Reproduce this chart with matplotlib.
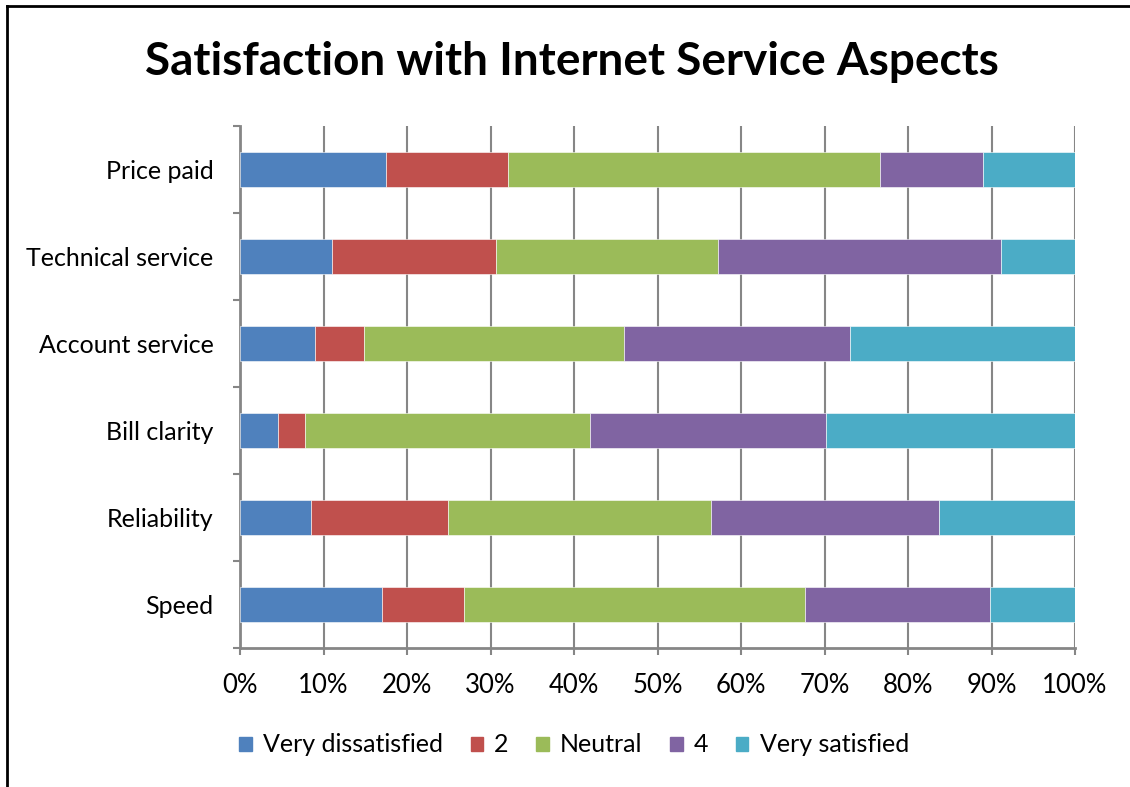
import numpy as np
import matplotlib.pyplot as plt
from matplotlib.lines import Line2D

plt.rcParams['font.family'] = ['Lato', 'DejaVu Sans']

categories = ['Speed', 'Reliability', 'Bill clarity', 'Account service',
              'Technical service', 'Price paid']
series = ['Very dissatisfied', '2', 'Neutral', '4', 'Very satisfied']
colors = ['#4F81BD', '#C0504D', '#9BBB59', '#8064A2', '#4BACC6']

# percent shares per category (bottom to top), one list per response level
very_dissatisfied = [17.0, 8.5, 4.5, 9.0, 11.0, 17.5]
two = [9.8, 16.4, 3.3, 5.8, 19.6, 14.6]
neutral = [40.9, 31.5, 34.1, 31.2, 26.6, 44.5]
four = [22.1, 27.3, 28.3, 27.1, 33.9, 12.4]
very_satisfied = [10.2, 16.3, 29.8, 26.9, 8.9, 11.0]
values = [very_dissatisfied, two, neutral, four, very_satisfied]

fig = plt.figure(figsize=(11.3, 7.87), dpi=100)
ax = fig.add_axes([240 / 1130, 1 - 648 / 787, 835 / 1130, 522 / 787])

y = np.arange(len(categories))
left = np.zeros(len(categories))
for vals, name, col in zip(values, series, colors):
    vals = np.array(vals)
    ax.barh(y, vals / 100.0, left=left, height=0.4, color=col, label=name,
            edgecolor='white', linewidth=0.4, zorder=3)
    left += vals / 100.0

grey = '#868686'
ax.set_xlim(0, 1)
ax.set_ylim(-0.5, len(categories) - 0.5)
ax.set_xticks(np.arange(0, 1.01, 0.1))
ax.set_xticklabels(['%d%%' % v for v in range(0, 101, 10)])
ax.set_yticks(y)
ax.set_yticklabels(categories)
ax.set_yticks(np.arange(-0.5, len(categories), 1.0), minor=True)
ax.tick_params(axis='y', which='major', length=0, pad=19, labelsize=18)
ax.tick_params(axis='y', which='minor', length=5, width=1.5, color=grey)
ax.tick_params(axis='x', length=5, width=1.5, color=grey, pad=13, labelsize=18.5)
ax.grid(axis='x', color=grey, linewidth=1.5, zorder=0)
for s in ['top', 'right']:
    ax.spines[s].set_visible(False)
for s in ['left', 'bottom']:
    ax.spines[s].set_color(grey)
    ax.spines[s].set_linewidth(2)

fig.text(0.506, 1 - 62 / 787, 'Satisfaction with Internet Service Aspects',
         ha='center', va='center', fontsize=33, fontweight='bold')

handles = [plt.Rectangle((0, 0), 1, 1, color=c) for c in colors]
fig.legend(handles, series, loc='center', bbox_to_anchor=(0.508, 1 - 745 / 787),
           ncol=5, frameon=False, fontsize=18, handlelength=0.5, handleheight=0.5,
           handletextpad=0.45, columnspacing=1.1)

# outer chart border (left and top edges visible)
fig.add_artist(Line2D([7 / 1130, 7 / 1130], [0, 1 - 6 / 787], transform=fig.transFigure,
                      color='black', linewidth=2))
fig.add_artist(Line2D([7 / 1130, 1], [1 - 6 / 787, 1 - 6 / 787], transform=fig.transFigure,
                      color='black', linewidth=2))

fig.savefig('out.png', dpi=100)
